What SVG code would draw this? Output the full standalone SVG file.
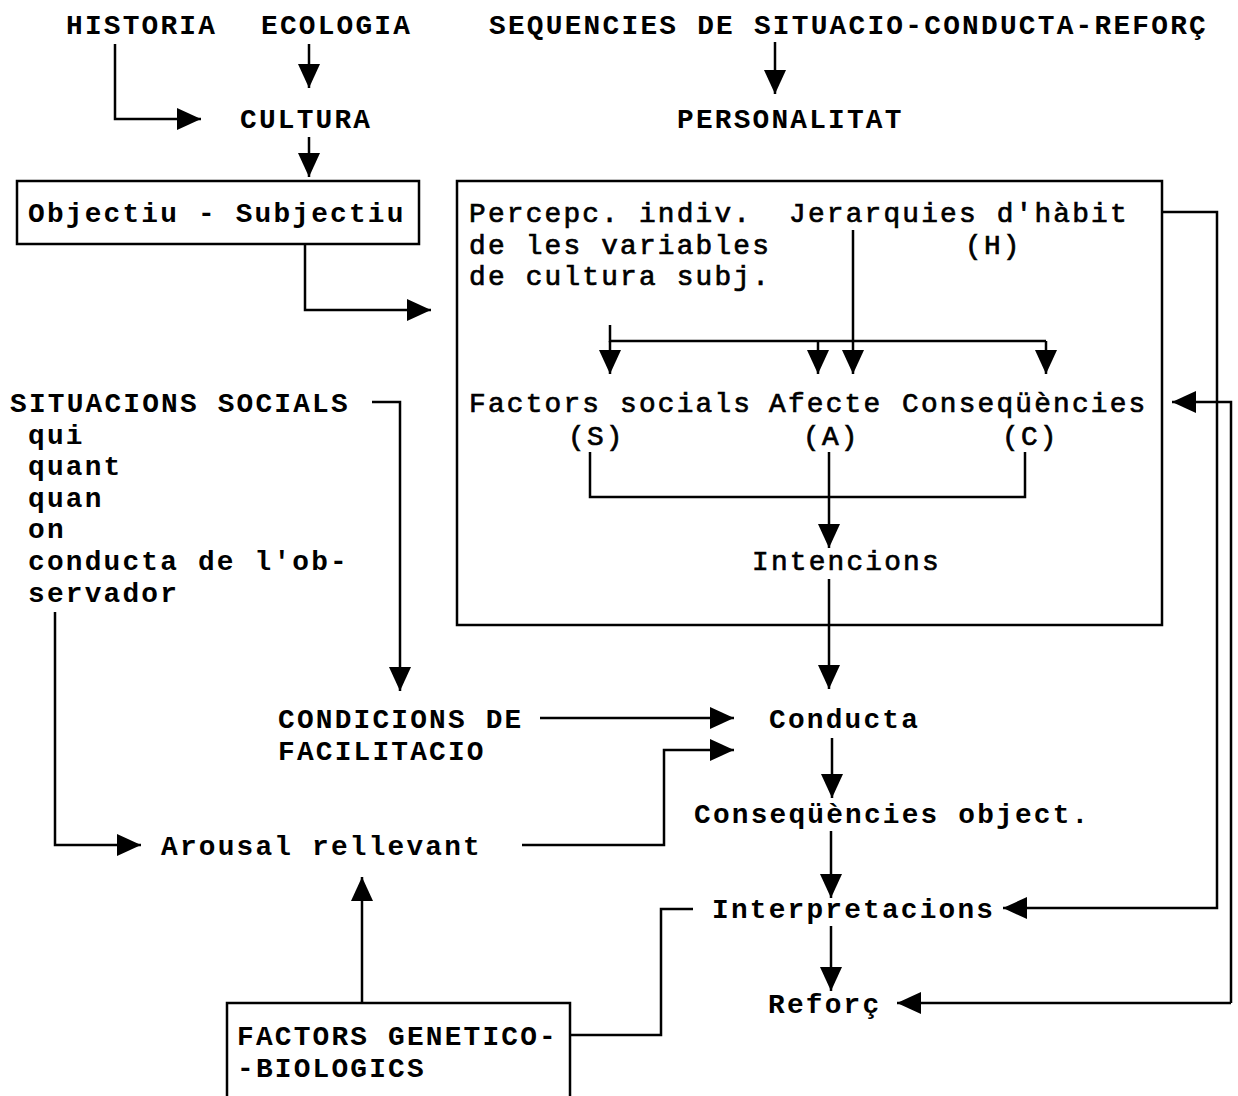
<svg xmlns="http://www.w3.org/2000/svg" width="1238" height="1096" viewBox="0 0 1238 1096">
  <defs>
    <marker id="arrow" markerUnits="userSpaceOnUse" markerWidth="26" markerHeight="24" refX="24" refY="12" orient="auto">
      <path d="M0,1 L24,12 L0,23 z" fill="#000"/>
    </marker>
    <style>
      .t { font-family: "Liberation Mono", "Courier New", monospace; font-size: 27.8px; letter-spacing: 2.2px; font-weight: bold; fill: #000; }
      .n { font-family: "Liberation Mono", "Courier New", monospace; font-size: 27.8px; letter-spacing: 2.2px; font-weight: normal; fill: #000; stroke: #000; stroke-width: 0.7; }
      .box { fill: none; stroke: #000; stroke-width: 2.5; }
      .c { fill: none; stroke: #000; stroke-width: 2.5; }
      .a { fill: none; stroke: #000; stroke-width: 2.5; marker-end: url(#arrow); }
    </style>
  </defs>
  <rect width="1238" height="1096" fill="#fff"/>

  <!-- top row -->
  <g id="historia"><text class="t" x="66" y="34">HISTORIA</text></g>
  <g id="ecologia"><text class="t" x="261" y="34">ECOLOGIA</text></g>
  <g id="sequencies"><text class="t" x="489" y="34" textLength="719" lengthAdjust="spacing">SEQUENCIES DE SITUACIO-CONDUCTA-REFORÇ</text></g>
  <g id="cultura"><text class="t" x="240" y="128">CULTURA</text></g>
  <g id="personalitat"><text class="t" x="677" y="128">PERSONALITAT</text></g>

  <!-- objective / subjective box -->
  <g id="objectiu">
    <rect class="box" x="17" y="181" width="402" height="63"/>
    <text class="t" x="28" y="222">Objectiu - Subjectiu</text>
  </g>

  <!-- subjective culture box -->
  <g id="subjectiva">
    <rect class="box" x="457" y="181" width="705" height="444"/>
    <text class="n"><tspan x="469" y="222">Percepc. indiv.</tspan><tspan x="469" y="253.6">de les variables</tspan><tspan x="469" y="285.2">de cultura subj.</tspan></text>
  </g>
  <g id="jerarquies">
    <text class="n"><tspan x="789" y="222">Jerarquies d'hàbit</tspan><tspan x="965" y="253.6">(H)</tspan></text>
  </g>
  <g id="factors-socials">
    <text class="n"><tspan x="469" y="412">Factors socials</tspan><tspan x="568" y="445">(S)</tspan></text>
  </g>
  <g id="afecte">
    <text class="n"><tspan x="769" y="412">Afecte</tspan><tspan x="803" y="445">(A)</tspan></text>
  </g>
  <g id="consequencies">
    <text class="n"><tspan x="902" y="412">Conseqüències</tspan><tspan x="1002" y="445">(C)</tspan></text>
  </g>
  <g id="intencions"><text class="n" x="752" y="570">Intencions</text></g>

  <!-- social situations -->
  <g id="situacions">
    <text class="t"><tspan x="10" y="412">SITUACIONS SOCIALS</tspan><tspan x="28" y="443.6">qui</tspan><tspan x="28" y="475.2">quant</tspan><tspan x="28" y="506.8">quan</tspan><tspan x="28" y="538.4">on</tspan><tspan x="28" y="570">conducta de l'ob-</tspan><tspan x="28" y="601.6">servador</tspan></text>
  </g>

  <g id="condicions">
    <text class="t"><tspan x="278" y="728">CONDICIONS DE</tspan><tspan x="278" y="760">FACILITACIO</tspan></text>
  </g>
  <g id="conducta"><text class="t" x="769" y="728">Conducta</text></g>
  <g id="consequencies-object"><text class="t" x="694" y="823">Conseqüències object.</text></g>
  <g id="arousal"><text class="t" x="161" y="855">Arousal rellevant</text></g>
  <g id="interpretacions"><text class="t" x="712" y="918">Interpretacions</text></g>
  <g id="reforc"><text class="t" x="768" y="1013">Reforç</text></g>

  <g id="genetico">
    <rect class="box" x="227" y="1003" width="343" height="110"/>
    <text class="t"><tspan x="237" y="1045">FACTORS GENETICO-</tspan><tspan x="237" y="1077">-BIOLOGICS</tspan></text>
  </g>

  <!-- connectors -->
  <g id="connectors">
    <path class="a" d="M115,44 V119 H201"/>
    <path class="a" d="M309,44 V88"/>
    <path class="a" d="M309,137 V177"/>
    <path class="a" d="M775,42 V94"/>
    <path class="a" d="M305,244 V310 H431"/>

    <!-- fan-out inside the box -->
    <path class="c" d="M610,325 V341 H1046"/>
    <path class="a" d="M610,341 V374"/>
    <path class="a" d="M818,341 V374"/>
    <path class="a" d="M1046,341 V374"/>
    <path class="a" d="M853,230 V374"/>

    <!-- S, A, C into intentions -->
    <path class="c" d="M590,452 V497 H1025 V452"/>
    <path class="a" d="M829,452 V548"/>
    <path class="a" d="M829,579 V689"/>

    <!-- social situations -->
    <path class="a" d="M372,402 H400 V691"/>
    <path class="a" d="M55,612 V845 H141"/>

    <!-- into behaviour -->
    <path class="a" d="M540,718 H734"/>
    <path class="a" d="M522,845 H664 V750 H734"/>
    <path class="a" d="M832,738 V798"/>
    <path class="a" d="M831,831 V898"/>
    <path class="a" d="M831,926 V991"/>

    <!-- genetic-biological factors -->
    <path class="a" d="M362,1003 V877"/>
    <path class="c" d="M570,1035 H661 V909 H693"/>

    <!-- feedback loops on the right -->
    <path class="a" d="M1162,212 H1217 V908 H1003"/>
    <path class="a" d="M1231,1003 V402 H1172"/>
    <path class="a" d="M1231,1003 H897"/>
  </g>
</svg>
